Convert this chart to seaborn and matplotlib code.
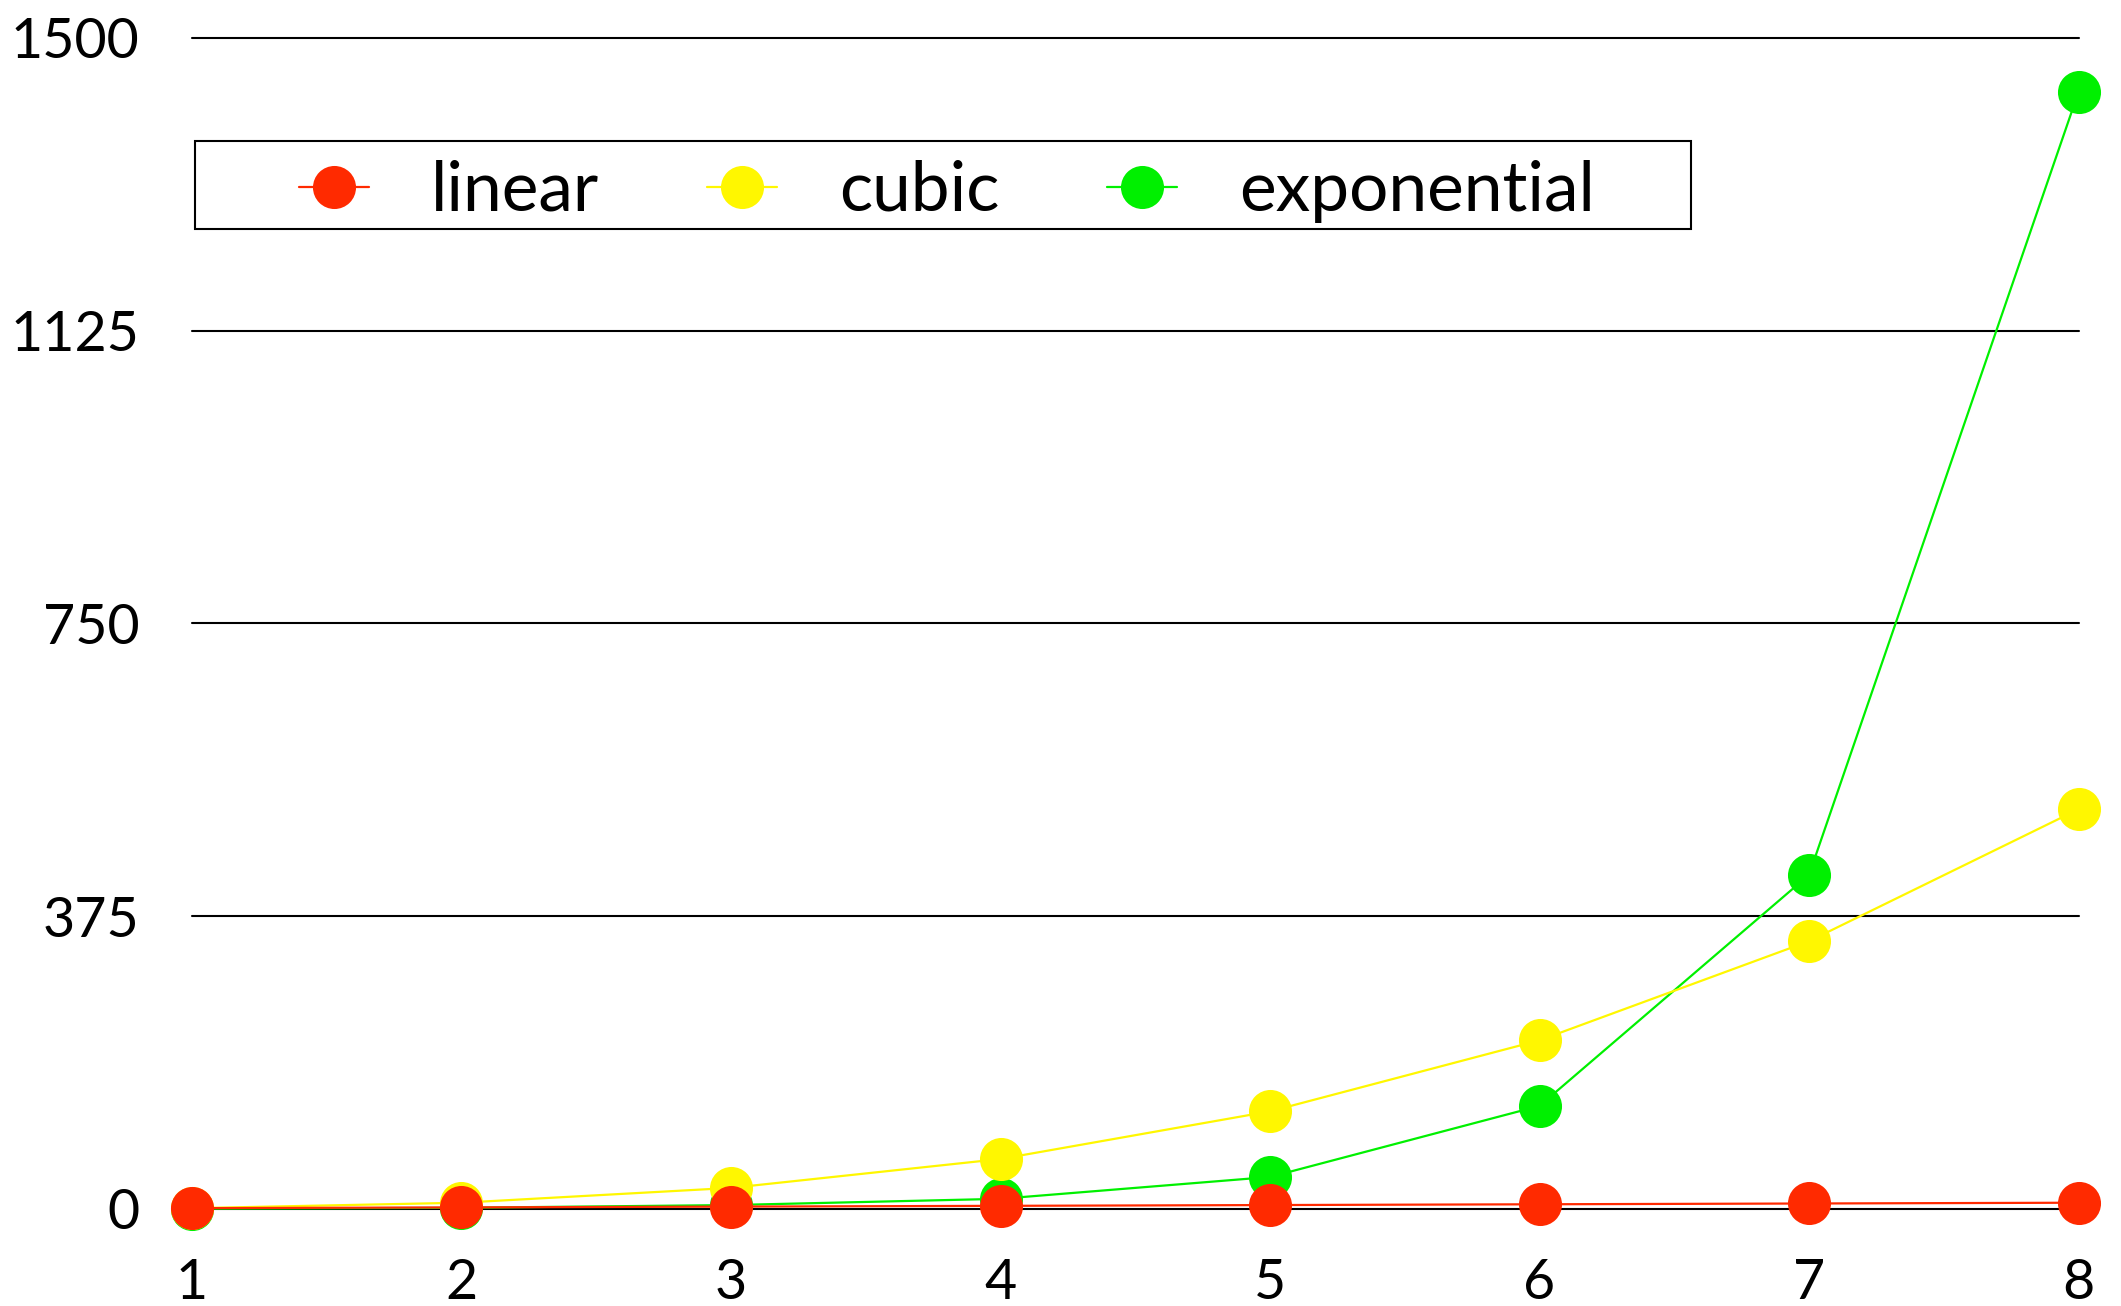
import matplotlib
matplotlib.use("Agg")
import matplotlib.pyplot as plt
from matplotlib.lines import Line2D
from matplotlib.patches import Rectangle
import seaborn as sns
import pandas as pd

# Growth of three sequences over n = 1..8
n_values = [1, 2, 3, 4, 5, 6, 7, 8]
linear = [1, 2, 3, 4, 5, 6, 7, 8]
cubic = [1, 8, 27, 64, 125, 216, 343, 512]
exponential = [0.3, 1.5, 5, 13, 41, 132, 428, 1431]

series_names = ["linear", "cubic", "exponential"]
series_colors = ["#FF2A00", "#FFF700", "#00F000"]
y_ticks = [0, 375, 750, 1125, 1500]

sns.set_theme(style="white")
plt.rcParams["font.family"] = ["Lato", "DejaVu Sans"]
plt.rcParams["text.color"] = "black"

df = pd.DataFrame({
    "n": n_values * 3,
    "value": linear + cubic + exponential,
    "series": [s for s in series_names for _ in n_values],
})
palette = dict(zip(series_names, series_colors))

fig = plt.figure(figsize=(21.21, 13.06), dpi=100)
ax = fig.add_axes([0.0905, 0.0743, 0.8895, 0.8967])

# draw exponential first so linear ends up on top
sns.lineplot(data=df, x="n", y="value", hue="series",
             hue_order=["exponential", "cubic", "linear"], palette=palette,
             marker="o", markersize=31, markeredgewidth=0, linewidth=1.6,
             legend=False, ax=ax, clip_on=False, zorder=3)

ax.set_xlim(1, 8)
ax.set_ylim(0, 1500)
ax.set_xticks(n_values)
ax.set_yticks(y_ticks)
ax.set_xticklabels([str(v) for v in n_values])
ax.set_yticklabels([str(v) for v in y_ticks])
ax.set_xlabel("")
ax.set_ylabel("")
for s in ax.spines.values():
    s.set_visible(False)
for t in y_ticks:
    ax.axhline(t, color="black", linewidth=1.5, zorder=1, clip_on=False)
ax.tick_params(axis="y", length=0, pad=38, labelsize=40, colors="black")
ax.tick_params(axis="x", length=0, pad=35, labelsize=40, colors="black")

# legend: a wide framed box with the entries centred inside it
box_x, box_y, box_w, box_h = 0.0919, 0.8247, 0.7053, 0.0674
fig.add_artist(Rectangle((box_x, box_y), box_w, box_h, transform=fig.transFigure,
                         facecolor="white", edgecolor="black", linewidth=1.5,
                         zorder=4))
handles = [Line2D([], [], color=palette[s], marker="o", markersize=31,
                  markeredgewidth=0, linewidth=1.6) for s in series_names]
leg = fig.legend(handles, series_names, loc="center",
                 bbox_to_anchor=(box_x + box_w / 2 + 0.002, box_y + box_h / 2 - 0.005),
                 ncol=3, fontsize=50, frameon=False,
                 handlelength=1.0, handletextpad=0.9, columnspacing=1.55,
                 borderpad=0, borderaxespad=0)
leg.set_zorder(5)

fig.savefig("out.png", dpi=100, facecolor="white")
